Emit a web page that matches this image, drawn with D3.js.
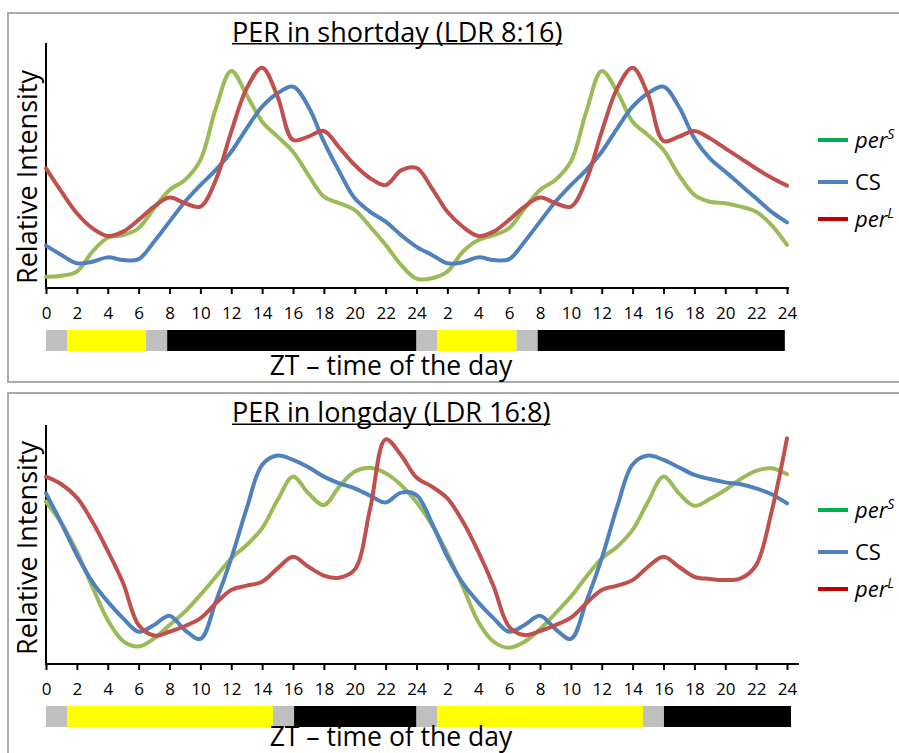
<!DOCTYPE html>
<html>
<head>
<meta charset="utf-8">
<script src="https://cdn.jsdelivr.net/npm/d3@7"></script>
<style>
  html, body { margin: 0; padding: 0; background: #fff; }
  svg { display: block; }
  text { font-family: "Open Sans", "Noto Sans", sans-serif; fill: #000; }
</style>
</head>
<body>
<svg id="chart" width="899" height="753"></svg>
<script>
// ---------- DATA ----------
const hours = d3.range(0, 49); // ZT hours over two days (0..48)

const tickValues = [0,2,4,6,8,10,12,14,16,18,20,22,24,26,28,30,32,34,36,38,40,42,44,46,48];
const tickLabels = ["0","2","4","6","8","10","12","14","16","18","20","22","24",
                    "2","4","6","8","10","12","14","16","18","20","22","24"];

const seriesNames = ["perS", "CS", "perL"];

// Short day (LDR 8:16) relative intensity, hourly
const shortPerS = [4.6,5.0,6.7,14.8,20.5,21.6,24.4,32.5,40.0,44.1,52.2,73.3,88.6,78.8,67.9,61.8,55.6,46.1,37.3,34.6,31.8,25.0,17.6,9.4,
                   3.8,4.0,6.7,14.8,19.6,21.6,24.4,32.5,40.0,44.1,51.6,72.0,88.6,80.1,67.9,62.4,56.3,46.1,38.0,35.2,34.6,33.2,31.1,25.7,17.6];
const shortCS   = [17.3,13.5,10.1,10.7,12.5,11.4,11.8,18.9,27.1,35.2,42.0,48.2,55.6,65.2,74.0,79.5,82.2,74.0,59.7,47.5,36.6,31.1,27.1,21.6,
                   16.8,13.5,10.1,10.5,12.5,11.4,11.8,18.9,27.1,35.2,42.0,48.2,55.6,65.2,74.0,79.5,82.2,74.0,61.1,52.9,47.5,42.0,36.6,31.1,26.8];
const shortPerL = [48.8,39.3,30.5,24.4,21.2,23.0,27.8,33.2,36.9,34.6,33.2,44.1,63.8,81.5,89.9,78.1,60.4,61.8,64.1,57.3,50.2,44.8,42.0,48.0,
                   49.0,40.7,31.1,25.0,21.2,23.0,27.8,33.2,36.9,34.6,33.2,44.1,63.8,81.5,89.9,78.8,60.0,61.8,64.1,61.1,57.0,52.9,48.8,45.0,41.8];

// Long day (LDR 16:8) relative intensity, hourly
const longPerS = [67.9,58.9,47.0,32.4,18.4,9.6,7.3,10.7,16.3,21.9,28.9,36.5,44.2,49.8,56.8,68.6,78.4,71.4,66.5,74.2,80.5,82.1,79.8,74.9,
                  67.8,58.2,46.3,32.4,17.7,9.3,6.8,9.3,14.6,21.2,28.2,36.5,44.2,49.1,56.1,67.9,78.4,71.4,66.2,69.0,72.8,77.4,80.8,81.9,79.4];
const longCS   = [71.4,58.9,45.6,34.4,26.1,19.1,13.5,16.3,20.2,14.2,10.5,26.1,44.2,65.1,83.3,87.2,85.4,82.3,78.4,75.6,73.5,70.4,67.6,71.7,
                  70.7,58.9,44.9,33.8,25.8,19.1,13.5,16.3,20.2,14.6,10.5,26.1,44.2,65.8,83.5,87.2,85.4,82.3,79.1,77.4,76.0,75.2,73.5,71.0,67.2];
const longPerL = [78.4,75.2,69.6,59.6,47.3,33.8,16.3,11.9,13.5,15.9,19.1,25.4,31.0,32.8,34.4,40.0,44.9,40.7,37.0,36.1,39.5,65.1,94.0,87.4,
                  78.0,74.2,69.3,59.6,47.0,32.4,15.6,12.1,13.8,16.3,19.4,25.4,31.0,32.8,35.1,40.7,44.9,40.7,36.5,35.6,35.1,35.8,41.4,63.7,94.4];

// Light regime bars: [start hour, end hour, phase]
const shortLight = [[0,1.36,"dim"],[1.36,6.48,"light"],[6.48,7.85,"dim"],[7.85,24,"dark"],
                    [24,25.36,"dim"],[25.36,30.48,"light"],[30.48,31.85,"dim"],[31.85,47.86,"dark"]];
const longLight  = [[0,1.36,"dim"],[1.36,14.7,"light"],[14.7,16.07,"dim"],[16.07,24,"dark"],
                    [24,25.36,"dim"],[25.36,38.67,"light"],[38.67,40.03,"dim"],[40.03,48.26,"dark"]];

const titles = ["PER in shortday (LDR 8:16)", "PER in longday (LDR 16:8)"];

// ---------- STYLE ----------
const lineColors   = { perS: "#9BBB59", CS: "#4F81BD", perL: "#C0504D" };
const legendColors = { perS: "#00B050", CS: "#4F81BD", perL: "#C00000" };
const phaseColors  = { dim: "#BFBFBF", light: "#FFFF00", dark: "#000000" };

const svg = d3.select("#chart");

const panels = [
  { frameY: 13, frameH: 369, yTop: 43, yBot: 288, axisEnd: 789, titleY: 41.5, barY: 330,
    xTitleY: 375, labelCY: 177, legendY: [140, 182, 219], data: [shortPerS, shortCS, shortPerL], light: shortLight, title: titles[0] },
  { frameY: 393, frameH: 400, yTop: 425, yBot: 664, axisEnd: 799, titleY: 422, barY: 706,
    xTitleY: 746, labelCY: 548, legendY: [510, 552, 589], data: [longPerS, longCS, longPerL], light: longLight, title: titles[1] }
];

const x = d3.scaleLinear().domain([0, 48]).range([46, 787]);

panels.forEach(p => {
  const g = svg.append("g");
  // frame
  g.append("rect").attr("x", 8).attr("y", p.frameY).attr("width", 1000).attr("height", p.frameH)
    .attr("fill", "none").attr("stroke", "#ABABAB").attr("stroke-width", 2);

  const y = d3.scaleLinear().domain([0, 100]).range([p.yBot, p.yTop]);

  // title with underline
  const t = g.append("text").attr("x", 232).attr("y", p.titleY)
    .attr("font-size", 27).text(p.title);
  const tw = t.node().getComputedTextLength();
  g.append("line").attr("x1", 232).attr("x2", 232 + tw)
    .attr("y1", p.titleY + 2.2).attr("y2", p.titleY + 2.2)
    .attr("stroke", "#000").attr("stroke-width", 1.6);

  // y axis label
  g.append("text")
    .attr("transform", `translate(37,${p.labelCY}) rotate(-90)`)
    .attr("text-anchor", "middle").attr("font-size", 27).text("Relative Intensity");

  // y axis line
  g.append("line").attr("x1", 46).attr("x2", 46).attr("y1", p.yTop).attr("y2", p.yBot + 1)
    .attr("stroke", "#000").attr("stroke-width", 2);

  // x axis
  const ax = d3.axisBottom(x).tickValues(tickValues)
    .tickFormat((d, i) => tickLabels[i]).tickSize(6).tickPadding(13);
  const axG = g.append("g").attr("transform", `translate(0,${p.yBot})`).call(ax);
  axG.select(".domain").remove();
  axG.selectAll(".tick line").attr("stroke", "#000").attr("stroke-width", 2);
  axG.selectAll(".tick text").attr("font-size", 17).attr("font-family", "Open Sans").attr("fill", "#000");
  g.append("line").attr("x1", 45).attr("x2", p.axisEnd).attr("y1", p.yBot).attr("y2", p.yBot)
    .attr("stroke", "#000").attr("stroke-width", 2);

  // lines
  const line = d3.line()
    .x((d, i) => x(hours[i]))
    .y(d => y(d))
    .curve(d3.curveCatmullRom.alpha(0.5));
  seriesNames.forEach((name, si) => {
    g.append("path").datum(p.data[si])
      .attr("d", line)
      .attr("fill", "none")
      .attr("stroke", lineColors[name])
      .attr("stroke-width", 4)
      .attr("stroke-linejoin", "round")
      .attr("stroke-linecap", "round");
  });

  // light bar
  g.selectAll(".seg").data(p.light).enter().append("rect")
    .attr("x", d => x(d[0])).attr("width", d => x(d[1]) - x(d[0]))
    .attr("y", p.barY).attr("height", 21)
    .attr("fill", d => phaseColors[d[2]]);

  // x axis title
  g.append("text").attr("x", 391).attr("y", p.xTitleY).attr("text-anchor", "middle")
    .attr("font-size", 26.5).text("ZT \u2013 time of the day");

  // legend
  seriesNames.forEach((name, si) => {
    const ly = p.legendY[si];
    g.append("line").attr("x1", 818).attr("x2", 848).attr("y1", ly).attr("y2", ly)
      .attr("stroke", legendColors[name]).attr("stroke-width", 4);
    const lt = g.append("text").attr("x", 855).attr("y", ly + 8).attr("font-size", 22);
    if (name === "CS") {
      lt.text("CS");
    } else {
      lt.append("tspan").attr("font-style", "italic").text("per");
      lt.append("tspan").attr("font-style", "italic").attr("font-size", 14).attr("dy", -9)
        .text(name === "perS" ? "S" : "L");
    }
  });
});
</script>
</body>
</html>
